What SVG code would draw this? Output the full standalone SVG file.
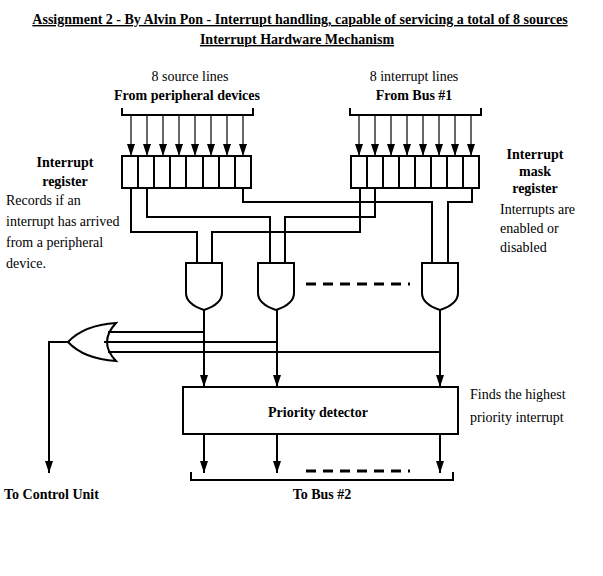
<svg xmlns="http://www.w3.org/2000/svg" width="603" height="576" viewBox="0 0 603 576">
<style>
text{font-family:"Liberation Serif","DejaVu Serif",serif;font-size:14px;fill:#000}
.b{font-weight:bold}
.m{text-anchor:middle}
.u{text-decoration:underline}
.w{fill:none;stroke:#000;stroke-width:2}
.a{fill:none;stroke:#000;stroke-width:1.2;marker-end:url(#ar)}
.t{fill:none;stroke:#000;stroke-width:2;marker-end:url(#ar)}
.g{fill:#fff;stroke:#000;stroke-width:2}
.d{stroke:#000;stroke-width:3;stroke-dasharray:10,7}
</style>
<defs><marker id="ar" markerUnits="userSpaceOnUse" markerWidth="12" markerHeight="8" refX="12" refY="4" orient="auto" viewBox="0 0 12 8"><path d="M0,0 L12,4 L0,8 Z"/></marker></defs>
<rect width="603" height="576" fill="#fff"/>
<g id="titles">
<text x="300" y="24" class="b m u">Assignment 2 - By Alvin Pon - Interrupt handling, capable of servicing a total of 8 sources</text>
<text x="297" y="44" class="b m u">Interrupt Hardware Mechanism</text>
</g>
<g id="src-label"><text x="190" y="81" class="m">8 source lines</text><text x="187" y="100" class="b m">From peripheral devices</text></g>
<g id="bus1-label"><text x="414" y="81" class="m">8 interrupt lines</text><text x="414" y="100" class="b m">From Bus #1</text></g>
<g id="ir-label"><text x="65" y="167" class="b m">Interrupt</text><text x="65" y="186" class="b m">register</text>
<text x="6" y="205">Records if an</text><text x="6" y="226">interrupt has arrived</text><text x="6" y="247">from a peripheral</text><text x="6" y="268">device.</text></g>
<g id="mask-label"><text x="535" y="159" class="b m">Interrupt</text><text x="535" y="176" class="b m">mask</text><text x="535" y="193" class="b m">register</text>
<text x="500" y="214">Interrupts are</text><text x="500" y="233">enabled or</text><text x="500" y="252">disabled</text></g>
<g id="intreg"><rect x="122" y="156" width="129" height="32" class="w"/>
<path class="w" d="M138,156V188M154,156V188M170,156V188M186,156V188M203,156V188M219,156V188M235,156V188"/></g>
<g id="maskreg"><rect x="351" y="156" width="128" height="32" class="w"/>
<path class="w" d="M367,156V188M383,156V188M399,156V188M415,156V188M431,156V188M447,156V188M463,156V188"/></g>
<g id="and1"><path class="g" d="M186,263H222V293Q222,304 204,310Q186,304 186,293Z"/></g>
<g id="and2"><path class="g" d="M258,263H294V293Q294,304 276,310Q258,304 258,293Z"/></g>
<g id="and3"><path class="g" d="M422,263H458V293Q458,304 440,310Q422,304 422,293Z"/></g>
<g id="or"><path class="g" d="M116,323Q98,342 116,361Q84,359 68,342Q84,325 116,323Z"/></g>
<g id="pd"><rect x="183" y="387" width="275" height="47" class="w"/><text x="318" y="417" class="b m">Priority detector</text></g>
<g id="pd-label"><text x="470" y="399">Finds the highest</text><text x="470" y="422">priority interrupt</text></g>
<g id="out-labels"><text x="4" y="499" class="b">To Control Unit</text><text x="322" y="499" class="b m">To Bus #2</text></g>
<g id="connectors">
<path class="w" d="M122,108V115H253V108M350,108V115H481V108"/>
<line class="a" x1="131" y1="115" x2="131" y2="156"/><line class="a" x1="147" y1="115" x2="147" y2="156"/>
<line class="a" x1="163" y1="115" x2="163" y2="156"/><line class="a" x1="179" y1="115" x2="179" y2="156"/>
<line class="a" x1="195" y1="115" x2="195" y2="156"/><line class="a" x1="211" y1="115" x2="211" y2="156"/>
<line class="a" x1="227" y1="115" x2="227" y2="156"/><line class="a" x1="243" y1="115" x2="243" y2="156"/>
<line class="a" x1="359" y1="115" x2="359" y2="156"/><line class="a" x1="375" y1="115" x2="375" y2="156"/>
<line class="a" x1="391" y1="115" x2="391" y2="156"/><line class="a" x1="407" y1="115" x2="407" y2="156"/>
<line class="a" x1="423" y1="115" x2="423" y2="156"/><line class="a" x1="439" y1="115" x2="439" y2="156"/>
<line class="a" x1="455" y1="115" x2="455" y2="156"/><line class="a" x1="471" y1="115" x2="471" y2="156"/>
<path class="w" d="M131,188V232H197V263M360,188V232H212V263M147,188V217H270V263M375,188V217H285V263M243,188V202H432V263M472,188V202H448V263"/>
<line class="d" x1="306" y1="284" x2="410" y2="284"/>
<path class="w" d="M108,332H204M104,342H277M108,352H440"/>
<path class="t" d="M68,342H49V473"/>
<line class="t" x1="204" y1="310" x2="204" y2="387"/><line class="t" x1="277" y1="310" x2="277" y2="387"/><line class="t" x1="440" y1="310" x2="440" y2="387"/>
<line class="t" x1="204" y1="434" x2="204" y2="473"/><line class="t" x1="277" y1="434" x2="277" y2="473"/><line class="t" x1="440" y1="434" x2="440" y2="473"/>
<line class="d" x1="306" y1="471" x2="410" y2="471"/>
<path class="w" d="M191,472V480H453V472"/>
</g>
</svg>
